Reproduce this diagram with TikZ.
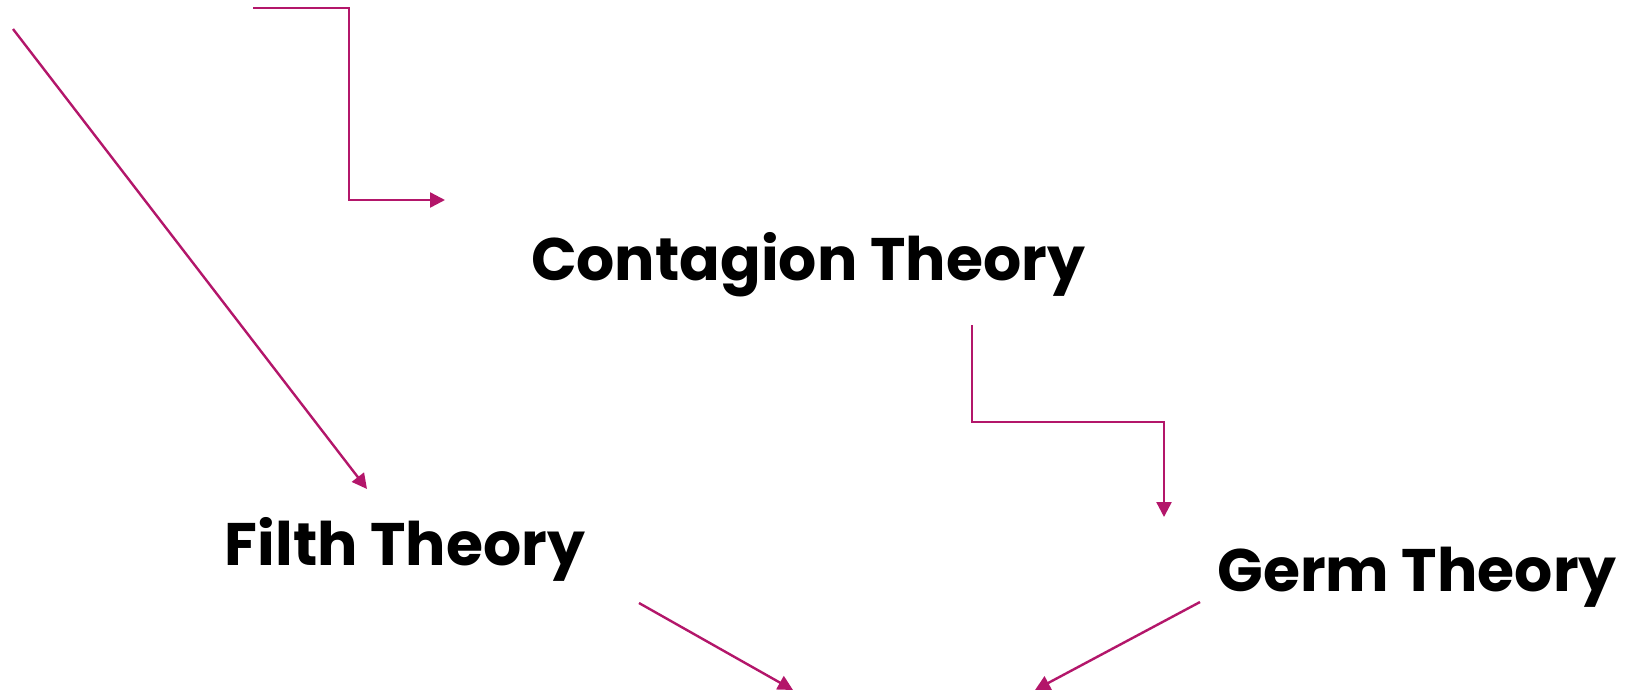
\documentclass[tikz,border=0pt]{standalone}
\usepackage{fontspec}
\setmainfont{Poppins}
\usetikzlibrary{arrows.meta,positioning}
\definecolor{theoryplum}{HTML}{B3166A}

\begin{document}
\begin{tikzpicture}[
  x=0.5pt, y=-0.5pt,
  theory/.style={font=\fontsize{30}{36}\selectfont\bfseries, inner sep=0pt, anchor=base},
  flow/.style={-{Triangle[length=7.5pt, width=7.5pt]}, line width=1.2pt, draw=theoryplum}
]
\useasboundingbox (0,0) rectangle (1626,692);
\node[theory] (contagion) at (808,280) {Contagion Theory};
\node[theory] (filth) at (405,565) {Filth Theory};
\node[theory] (germ) at (1417,591) {Germ Theory};
% free ends of the connectors
\coordinate (elbowstart) at (253,8);
\coordinate (contagionin) at (445,200);
\coordinate (diagstart) at (13,29);
\coordinate (filthin) at (367,489);
\coordinate (contagionout) at (972,325);
\coordinate (germin) at (1164,517);
\coordinate (filthout) at (639,603);
\coordinate (germout) at (1200,602);
\coordinate (filthend) at (793,690);
\coordinate (germend) at (1035,690);
\draw[flow] (elbowstart) -| (349,200) -- (contagionin);
\draw[flow] (diagstart) -- (filthin);
\draw[flow] (contagionout) |- (1164,422) -- (germin);
\draw[flow] (filthout) -- (filthend);
\draw[flow] (germout) -- (germend);
\end{tikzpicture}
\end{document}
